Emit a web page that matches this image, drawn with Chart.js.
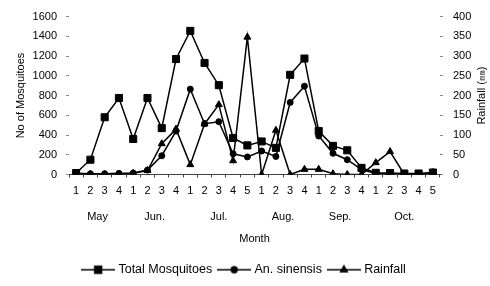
<!DOCTYPE html>
<html>
<head>
  <meta charset="UTF-8" />
  <title>Mosquitoes and Rainfall</title>
  <style>
    html, body { margin: 0; padding: 0; background: #fff; }
    #wrap { width: 490px; height: 286px; }
  </style>
</head>
<body>
  <div id="wrap"><canvas id="chart"></canvas></div>
  <script src="https://cdn.jsdelivr.net/npm/chart.js"></script>
  <script>
    // weekly data, May - Oct
    const weeks = ['1','2','3','4', '1','2','3','4', '1','2','3','4','5', '1','2','3','4', '1','2','3','4', '1','2','3','4','5'];
    const months = ['May', 'Jun.', 'Jul.', 'Aug.', 'Sep.', 'Oct.'];
    const weeksPerMonth = [4, 4, 5, 4, 4, 5];

    const totalMosquitoes = [15, 150, 580, 775, 360, 775, 470, 1170, 1455, 1130, 905, 370, 295, 335, 270, 1010, 1175, 440, 290, 245, 67, 17, 15, 10, 10, 20];
    const anSinensis = [12, 8, 8, 12, 15, 45, 190, 440, 865, 515, 535, 210, 178, 238, 183, 730, 895, 390, 215, 150, 50, 10, 8, 5, 5, 10];
    const rainfall = [0, 0, 0, 0, 3, 10, 78, 115, 25, 128, 177, 35, 348, 0, 112, 0, 13, 13, 2, 0, 0, 30, 58, 0, 0, 5];

    // centre of each month group on the week axis
    const monthCenters = [];
    let start = 0;
    weeksPerMonth.forEach(n => { monthCenters.push(start + (n - 1) / 2); start += n; });

    Chart.defaults.font.family = '"Liberation Sans", Arial, sans-serif';
    Chart.defaults.font.size = 11;
    Chart.defaults.color = '#000';

    function legendIcon(style, radius) {
      const c = document.createElement('canvas');
      c.width = 34; c.height = 12;
      const g = c.getContext('2d');
      g.strokeStyle = '#000';
      g.lineWidth = 1.3;
      g.beginPath(); g.moveTo(0, 6); g.lineTo(34, 6); g.stroke();
      g.fillStyle = '#000';
      Chart.helpers.drawPoint(g, { pointStyle: style, radius: radius, borderWidth: 1, rotation: 0 }, 17, 6);
      g.fill();
      return c;
    }
    const icons = [legendIcon('rect', 5), legendIcon('circle', 3), legendIcon('triangle', 4)];

    const rightTitle = {
      id: 'rightTitle',
      afterDraw(chart) {
        const ctx = chart.ctx;
        const y1 = chart.scales.y1;
        ctx.save();
        ctx.translate(y1.right - 8, (chart.chartArea.top + chart.chartArea.bottom) / 2);
        ctx.rotate(-Math.PI / 2);
        ctx.font = '11px "Liberation Sans", Arial, sans-serif';
        ctx.fillStyle = '#000';
        ctx.textAlign = 'center';
        ctx.textBaseline = 'middle';
        ctx.fillText('Rainfall (㎜)', 0, 0);
        ctx.restore();
      }
    };

    const line = (label, data, style, radius, axis) => ({
      label: label,
      data: data,
      yAxisID: axis,
      borderColor: '#000',
      backgroundColor: '#000',
      borderWidth: 1.5,
      pointStyle: style,
      pointRadius: radius,
      pointBorderWidth: 1,
      tension: 0
    });

    new Chart(document.getElementById('chart'), {
      type: 'line',
      data: {
        labels: weeks,
        datasets: [
          line('Total Mosquitoes', totalMosquitoes, 'rect', 5, 'y'),
          line('An. sinensis', anSinensis, 'circle', 3, 'y'),
          line('Rainfall', rainfall, 'triangle', 4, 'y1')
        ]
      },
      options: {
        responsive: true,
        maintainAspectRatio: false,
        animation: false,
        layout: { padding: { top: 15, left: 0, right: 0, bottom: 0 } },
        plugins: {
          tooltip: { enabled: false },
          legend: {
            position: 'bottom',
            labels: {
              usePointStyle: true,
              pointStyleWidth: 28,
              padding: 8,
              font: { size: 12.5 },
              generateLabels: chart => Chart.defaults.plugins.legend.labels.generateLabels(chart)
                .map((item, i) => Object.assign(item, { pointStyle: icons[i] }))
            }
          }
        },
        scales: {
          x: {
            type: 'category',
            weight: 0,
            offset: true,
            grid: { display: true, drawOnChartArea: false, offset: true, tickLength: 3, color: '#444' },
            border: { display: true, color: '#444', dash: [4, 10.28], dashOffset: 2 },
            ticks: { padding: 7, autoSkip: false, maxRotation: 0 },
            afterFit: s => { s.height = 28; }
          },
          month: {
            type: 'linear',
            position: 'bottom',
            weight: 1,
            min: -0.5,
            max: weeks.length - 0.5,
            grid: { display: false },
            border: { display: false },
            afterBuildTicks: s => { s.ticks = monthCenters.map(v => ({ value: v })); },
            ticks: { padding: 0, autoSkip: false, maxRotation: 0, callback: (v, i) => months[i] },
            title: { display: true, text: 'Month', padding: { top: 0, bottom: 10 } },
            afterFit: s => { s.height = 53; }
          },
          y: {
            position: 'left',
            min: 0,
            max: 1600,
            ticks: { stepSize: 200, padding: 9, callback: v => String(v) },
            grid: { display: true, drawOnChartArea: false, tickLength: 3, color: '#888' },
            border: { display: false },
            title: { display: true, text: 'No of Mosquitoes', padding: { top: 14, bottom: 0 } },
            afterFit: s => { s.width = 69; }
          },
          y1: {
            position: 'right',
            min: 0,
            max: 400,
            ticks: { stepSize: 50, padding: 10, callback: v => String(v) },
            grid: { display: true, drawOnChartArea: false, tickLength: 3, color: '#888' },
            border: { display: false },
            afterFit: s => { s.width = 50; }
          }
        }
      },
      plugins: [rightTitle]
    });
  </script>
</body>
</html>
